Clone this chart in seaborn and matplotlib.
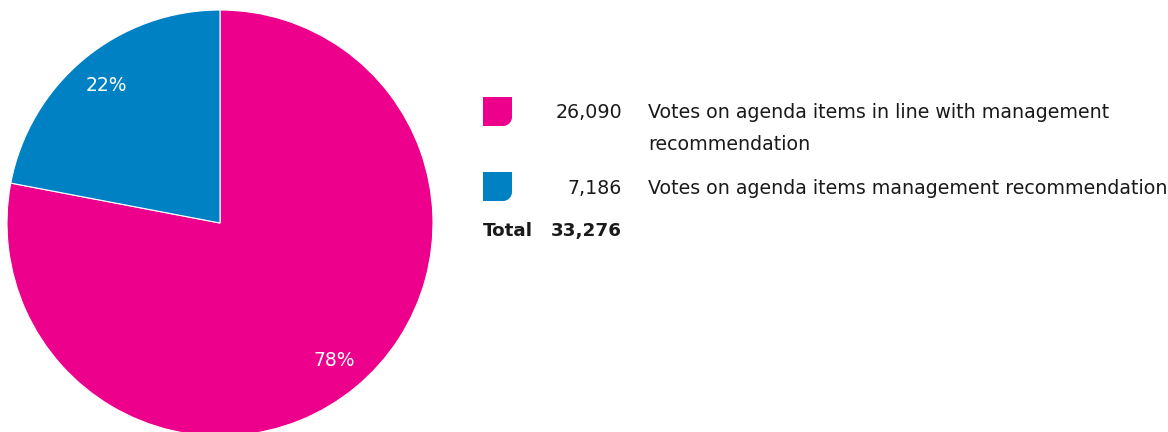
import matplotlib
matplotlib.use("Agg")
import matplotlib.pyplot as plt
from matplotlib.path import Path
from matplotlib.patches import PathPatch
import seaborn as sns

# Vote counts per category and their rounded shares
categories = [
    "Votes on agenda items in line with management\nrecommendation",
    "Votes on agenda items management recommendation",
]
votes = [26090, 7186]
shares = [78, 22]
colors = ["#EC008C", "#0081C4"]
total_label = "Total"

sns.set_theme(style="white")
plt.rcParams["font.family"] = ["DejaVu Sans"]

W, H = 1168, 432
fig = plt.figure(figsize=(W / 100, H / 100), dpi=100)
fig.patch.set_facecolor("white")

# Pie axes: centre (220, 223) px, radius 213 px
cx, cy, r = 220, 223, 213
pie_ax = fig.add_axes([(cx - r) / W, (H - cy - r) / H, 2 * r / W, 2 * r / H])
total = sum(votes)
wedges, _, autotexts = pie_ax.pie(
    shares,
    colors=colors,
    startangle=90,
    counterclock=False,
    radius=1.0,
    autopct=lambda p: f"{p:.0f}%",
    pctdistance=0.84,
    wedgeprops=dict(edgecolor="white", linewidth=0.8),
    textprops=dict(color="white", fontsize=13.5),
)
pie_ax.set_xlim(-1, 1)
pie_ax.set_ylim(-1, 1)
pie_ax.set_aspect("equal")
pie_ax.axis("off")

# Overlay axes in pixel coordinates for the legend block
ov = fig.add_axes([0, 0, 1, 1])
ov.set_xlim(0, W)
ov.set_ylim(H, 0)
ov.axis("off")
ov.patch.set_alpha(0)


def swatch(ax, x0, y0, size, rad, color):
    k = 0.5523 * rad
    x1, y1 = x0 + size, y0 + size
    verts = [
        (x0, y0), (x1, y0), (x1, y1 - rad),
        (x1, y1 - rad + k), (x1 - rad + k, y1), (x1 - rad, y1),
        (x0, y1), (x0, y0),
    ]
    codes = [Path.MOVETO, Path.LINETO, Path.LINETO,
             Path.CURVE4, Path.CURVE4, Path.CURVE4,
             Path.LINETO, Path.CLOSEPOLY]
    ax.add_patch(PathPatch(Path(verts, codes), facecolor=color, edgecolor="none"))


rows_y = [113, 188]
line_gap = 31
text_color = "#1a1a1a"
fs = 13.7
for y, val, label, col in zip(rows_y, votes, categories, colors):
    swatch(ov, 483, y - 16, 29, 9, col)
    ov.text(622, y, f"{val:,}", ha="right", va="center", fontsize=fs, color=text_color)
    for i, line in enumerate(label.split("\n")):
        ov.text(648, y + i * line_gap, line, ha="left", va="center", fontsize=fs,
                color=text_color)

ov.text(483, 231, total_label, ha="left", va="center", fontsize=fs - 0.5,
        fontweight="bold", color=text_color)
ov.text(622, 231, f"{total:,}", ha="right", va="center", fontsize=fs - 0.5,
        fontweight="bold", color=text_color)

fig.savefig("out.png", dpi=100, facecolor="white")
